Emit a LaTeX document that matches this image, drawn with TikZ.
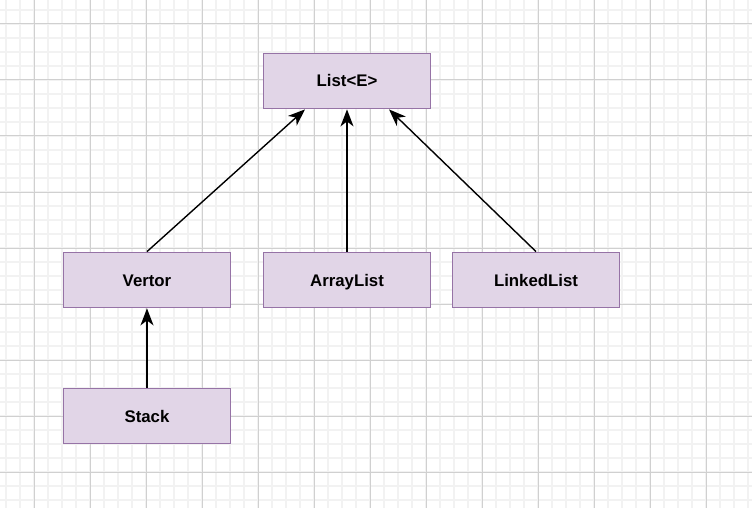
\documentclass[tikz,border=0pt]{standalone}
\usepackage{fontspec}
\setmainfont{Liberation Sans}
\usepackage{xcolor}
\usetikzlibrary{arrows.meta}

\definecolor{boxfill}{RGB}{225,213,231}
\definecolor{boxline}{RGB}{150,115,166}
\definecolor{gridminor}{RGB}{242,242,242}
\definecolor{gridmajor}{RGB}{208,208,208}

\tikzset{
    classbox/.style={draw=boxline, fill=boxfill, line width=1.8pt,
        minimum width=167pt, minimum height=55pt, inner sep=0pt,
        text height=12pt, text depth=0pt,
        font=\fontsize{16.8}{20}\selectfont\bfseries},
    inherit/.style={line width=1.4pt, -{Stealth[length=17pt,width=13pt,inset=5pt]}}
}

\begin{document}
\begin{tikzpicture}[x=1pt, y=-1pt]
                % Background
                \fill[white] (0,0) rectangle (752,508);
                \useasboundingbox (0,0) rectangle (752,508);
                % minor grid
                \foreach \x in {6,20,...,752}
                    \draw[gridminor, line width=1.2pt] (\x,0) -- (\x,508);
                \foreach \y in {10,24,...,508}
                    \draw[gridminor, line width=1.2pt] (0,\y) -- (752,\y);
                % major grid
                \foreach \x in {34,90,...,752}
                    \draw[gridmajor, line width=1pt] (\x,0) -- (\x,508);
                \foreach \y in {24,80,...,508}
                    \draw[gridmajor, line width=1pt] (0,\y) -- (752,\y);

                % Classes
                \node[classbox] (list) at (347,81) {List<E>};
                \node[classbox] (vertor) at (147,280) {Vertor};
                \node[classbox] (arraylist) at (347,280) {ArrayList};
                \node[classbox] (linkedlist) at (536,280) {LinkedList};
                \node[classbox] (stack) at (147,416) {Stack};

                % Inheritance arrows
                \draw[inherit] (vertor.north) -- ([xshift=-42pt]list.south);
                \draw[inherit] (arraylist.north) -- (list.south);
                \draw[inherit] (linkedlist.north) -- ([xshift=42pt]list.south);
                \draw[inherit] (stack.north) -- (vertor.south);
            \end{tikzpicture}
\end{document}
